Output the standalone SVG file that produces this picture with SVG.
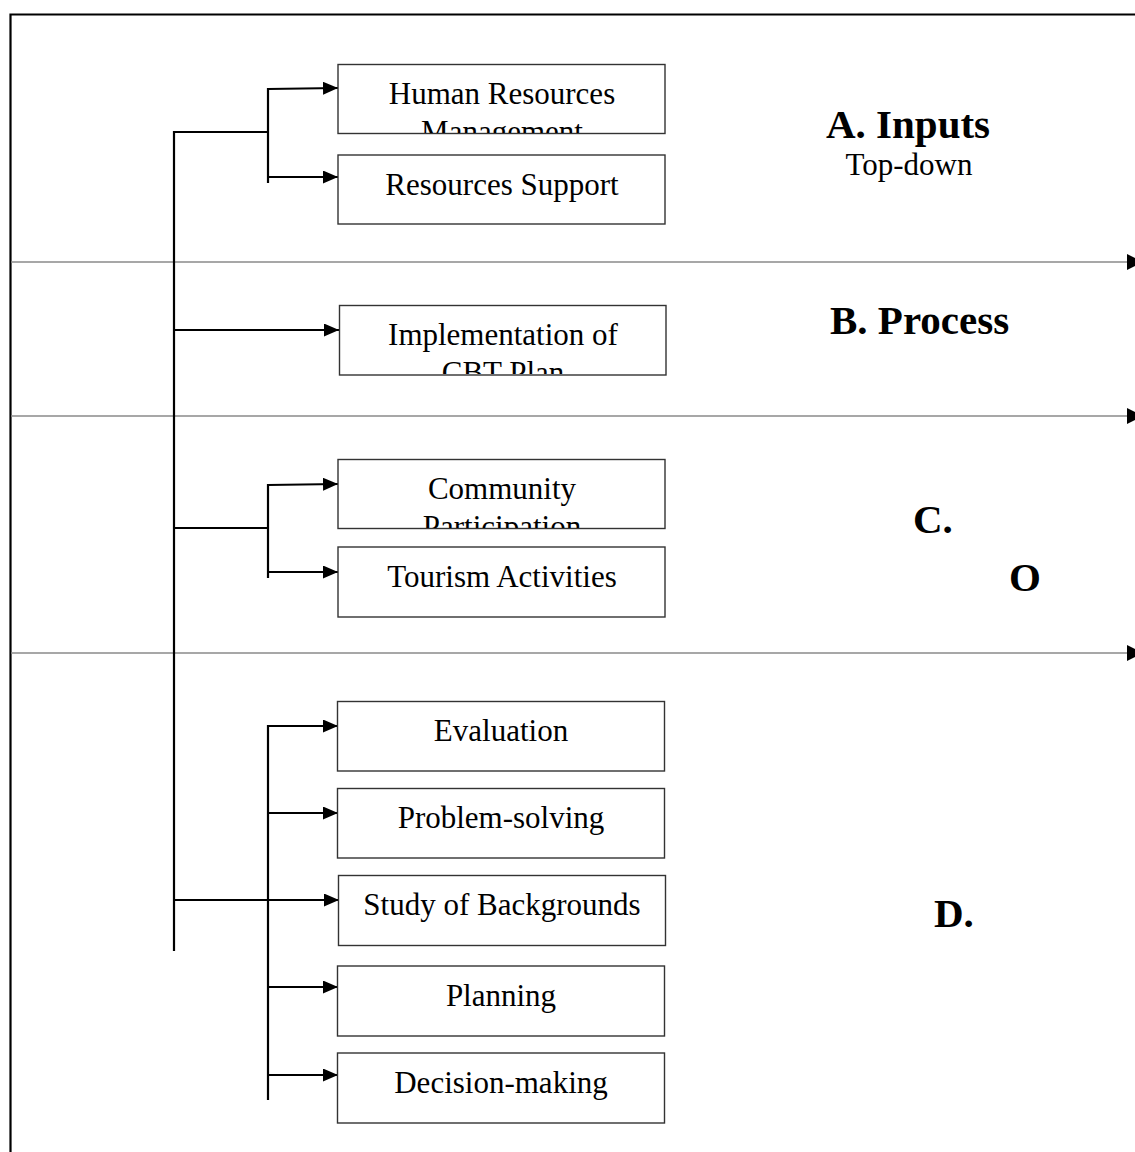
<svg xmlns="http://www.w3.org/2000/svg" width="1135" height="1152" viewBox="0 0 1135 1152">
<style>
.box{fill:#fff;stroke:#333;stroke-width:1.4}
.t{font-family:"Liberation Serif","Times New Roman",serif;font-size:31px;fill:#000;text-anchor:middle}
.h{font-family:"Liberation Serif","Times New Roman",serif;font-size:41px;font-weight:bold;fill:#000}
.conn{fill:none;stroke:#000;stroke-width:2.2}
.sep{fill:none;stroke:#8a8a8a;stroke-width:1.6}
</style>
<defs>
<marker id="ah" markerWidth="15" markerHeight="13" refX="15" refY="6.5" orient="auto" markerUnits="userSpaceOnUse">
<path d="M0,0 L15,6.5 L0,13 Z" fill="#000"/>
</marker>
<clipPath id="c1"><rect x="339" y="65" width="325" height="68"/></clipPath>
<clipPath id="c3"><rect x="340" y="306" width="325" height="68"/></clipPath>
<clipPath id="c4"><rect x="339" y="460" width="325" height="68"/></clipPath>
</defs>
<rect width="1135" height="1152" fill="#fff"/>
<path d="M10.5,1152 V14.5 H1135" fill="none" stroke="#000" stroke-width="2.2"/>
<g id="separators">
<line class="sep" x1="11" y1="262" x2="1128" y2="262"/>
<polygon points="1127,254 1143,262 1127,270" fill="#000"/>
<line class="sep" x1="11" y1="416" x2="1128" y2="416"/>
<polygon points="1127,408 1143,416 1127,424" fill="#000"/>
<line class="sep" x1="11" y1="653" x2="1128" y2="653"/>
<polygon points="1127,645 1143,653 1127,661" fill="#000"/>
</g>
<g id="connectors">
<line class="conn" x1="174" y1="131" x2="174" y2="951"/>
<line class="conn" x1="174" y1="132" x2="268" y2="132"/>
<line class="conn" x1="268" y1="88" x2="268" y2="183"/>
<line class="conn" x1="268" y1="89" x2="338" y2="88" marker-end="url(#ah)"/>
<line class="conn" x1="268" y1="177" x2="338" y2="177" marker-end="url(#ah)"/>
<line class="conn" x1="174" y1="330" x2="339" y2="330" marker-end="url(#ah)"/>
<line class="conn" x1="174" y1="528" x2="268" y2="528"/>
<line class="conn" x1="268" y1="484" x2="268" y2="578"/>
<line class="conn" x1="268" y1="485" x2="338" y2="484" marker-end="url(#ah)"/>
<line class="conn" x1="268" y1="572" x2="338" y2="572" marker-end="url(#ah)"/>
<line class="conn" x1="268" y1="725" x2="268" y2="1100"/>
<line class="conn" x1="268" y1="726" x2="338" y2="726" marker-end="url(#ah)"/>
<line class="conn" x1="268" y1="813" x2="338" y2="813" marker-end="url(#ah)"/>
<line class="conn" x1="174" y1="900" x2="339" y2="900" marker-end="url(#ah)"/>
<line class="conn" x1="268" y1="987" x2="338" y2="987" marker-end="url(#ah)"/>
<line class="conn" x1="268" y1="1075" x2="338" y2="1075" marker-end="url(#ah)"/>
</g>
<g id="n-hrm"><rect class="box" x="338" y="64.5" width="327" height="69"/>
<g clip-path="url(#c1)"><text class="t" x="502" y="104">Human Resources</text><text class="t" x="502" y="142">Management</text></g></g>
<g id="n-rs"><rect class="box" x="338" y="155" width="327" height="69"/><text class="t" x="502" y="195">Resources Support</text></g>
<g id="n-impl"><rect class="box" x="339.5" y="305.5" width="326.5" height="69.5"/>
<g clip-path="url(#c3)"><text class="t" x="503" y="345">Implementation of</text><text class="t" x="503" y="383">CBT Plan</text></g></g>
<g id="n-cp"><rect class="box" x="338" y="459.5" width="327" height="69"/>
<g clip-path="url(#c4)"><text class="t" x="502" y="499">Community</text><text class="t" x="502" y="537">Participation</text></g></g>
<g id="n-ta"><rect class="box" x="338" y="547" width="327" height="70"/><text class="t" x="502" y="587">Tourism Activities</text></g>
<g id="n-eval"><rect class="box" x="337.5" y="701.5" width="327" height="69.5"/><text class="t" x="501" y="741">Evaluation</text></g>
<g id="n-ps"><rect class="box" x="337.5" y="788.5" width="327" height="69.5"/><text class="t" x="501" y="828">Problem-solving</text></g>
<g id="n-sb"><rect class="box" x="338.5" y="875.5" width="327" height="70"/><text class="t" x="502" y="915">Study of Backgrounds</text></g>
<g id="n-plan"><rect class="box" x="337.5" y="966" width="327" height="70"/><text class="t" x="501" y="1006">Planning</text></g>
<g id="n-dm"><rect class="box" x="337.5" y="1053" width="327" height="70"/><text class="t" x="501" y="1093">Decision-making</text></g>
<g id="labels">
<text class="h" x="826" y="138">A. Inputs</text>
<text class="t" x="909" y="175">Top-down</text>
<text class="h" x="830" y="334">B. Process</text>
<text class="h" x="913" y="533">C.</text>
<text class="h" x="1009" y="591">O</text>
<text class="h" x="934" y="927">D.</text>
</g>
</svg>
